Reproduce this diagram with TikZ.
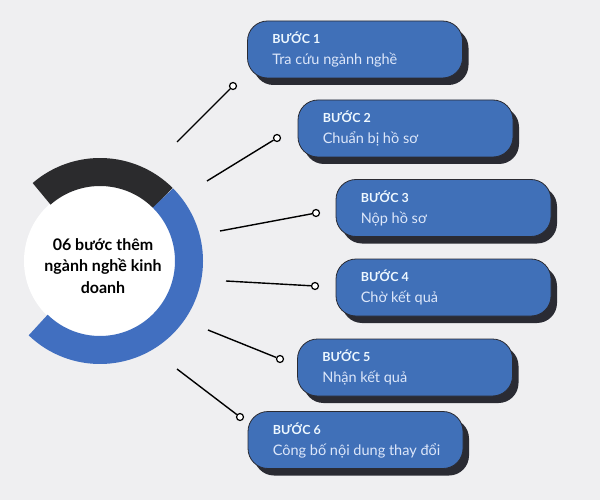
\documentclass[tikz,border=0pt]{standalone}
\usepackage{fontspec}
\setmainfont{Lato}
\usetikzlibrary{shadows}
\definecolor{bgcol}{HTML}{EFEFF1}
\definecolor{stepblue}{HTML}{4070B8}
\definecolor{ringblue}{HTML}{416FC0}
\definecolor{ringdark}{HTML}{2B2B2D}
\definecolor{shadowcol}{HTML}{2A2B33}
\definecolor{titlecol}{HTML}{EEF8FF}
\definecolor{desccol}{HTML}{DDE7FA}
\tikzset{
  stepbox/.style={draw=shadowcol, line width=0.8pt, fill=stepblue, rounded corners=20pt,
    minimum width=215pt, minimum height=57pt,
    drop shadow={shadow xshift=6pt, shadow yshift=-7pt, fill=shadowcol, opacity=1}},
  steptitle/.style={anchor=base west, inner sep=0pt, text=titlecol, font=\bfseries\fontsize{12.5}{15}\selectfont},
  stepdesc/.style={anchor=base west, inner sep=0pt, text=desccol, font=\fontsize{14.5}{17}\selectfont},
  knob/.style={circle, draw, fill=white, line width=1.2pt, inner sep=0pt, minimum size=7pt},
  linkline/.style={line width=1.4pt}
}
\begin{document}
\begin{tikzpicture}[x=1pt, y=1pt]
    \useasboundingbox (0,0) rectangle (600,-500);
    \fill[bgcol] (0,0) rectangle (600,-500);
    % ring
    \node (hub) [circle, fill=white, minimum size=152pt, inner sep=0pt] at (100,-261) {};
    \draw[ringdark, line width=28pt] ([shift={(45:89pt)}]hub.center) arc[start angle=45, end angle=131, radius=89pt];% dark part
    \draw[ringblue, line width=28pt] ([shift={(45:89pt)}]hub.center) arc[start angle=45, end angle=-134, radius=89pt];% blue part
    \node (hubtext) [align=center, font=\bfseries\fontsize{16}{21.5}\selectfont] at (103,-266) {06 bước thêm\\ngành nghề kinh\\doanh};
    % steps
    \node (box1) [stepbox] at (355,-49.5) {};
    \node (title1) [steptitle] at ([xshift=25pt,yshift=6pt]box1.west) {BƯỚC 1};
    \node (desc1) [stepdesc] at ([xshift=25pt,yshift=-15pt]box1.west) {Tra cứu ngành nghề};
    \node (box2) [stepbox] at (405.5,-128.5) {};
    \node (title2) [steptitle] at ([xshift=25pt,yshift=6pt]box2.west) {BƯỚC 2};
    \node (desc2) [stepdesc] at ([xshift=25pt,yshift=-15pt]box2.west) {Chuẩn bị hồ sơ};
    \node (box3) [stepbox] at (443.5,-208) {};
    \node (title3) [steptitle] at ([xshift=25pt,yshift=6pt]box3.west) {BƯỚC 3};
    \node (desc3) [stepdesc] at ([xshift=25pt,yshift=-15pt]box3.west) {Nộp hồ sơ};
    \node (box4) [stepbox] at (443.5,-287.5) {};
    \node (title4) [steptitle] at ([xshift=25pt,yshift=6pt]box4.west) {BƯỚC 4};
    \node (desc4) [stepdesc] at ([xshift=25pt,yshift=-15pt]box4.west) {Chờ kết quả};
    \node (box5) [stepbox] at (405,-367.5) {};
    \node (title5) [steptitle] at ([xshift=25pt,yshift=6pt]box5.west) {BƯỚC 5};
    \node (desc5) [stepdesc] at ([xshift=25pt,yshift=-15pt]box5.west) {Nhận kết quả};
    \node (box6) [stepbox] at (355.5,-440) {};
    \node (title6) [steptitle] at ([xshift=25pt,yshift=6pt]box6.west) {BƯỚC 6};
    \node (desc6) [stepdesc] at ([xshift=25pt,yshift=-15pt]box6.west) {Công bố nội dung thay đổi};
    % connectors
    \coordinate (s1) at (177,-142);
    \coordinate (s2) at (207,-181);
    \coordinate (s3) at (220,-231);
    \coordinate (s4) at (226,-281);
    \coordinate (s5) at (208,-330);
    \coordinate (s6) at (177,-369);
    \node (d1) [knob] at (233,-86) {};
    \node (d2) [knob] at (277,-138) {};
    \node (d3) [knob] at (316,-213) {};
    \node (d4) [knob] at (315,-286) {};
    \node (d5) [knob] at (280,-359) {};
    \node (d6) [knob] at (240,-417) {};
    \draw[linkline] (s1) -- (d1);% step 1
    \draw[linkline] (s2) -- (d2);% step 2
    \draw[linkline] (s3) -- (d3);% step 3
    \draw[linkline] (s4) -- (d4);% step 4
    \draw[linkline] (s5) -- (d5);% step 5
    \draw[linkline] (s6) -- (d6);% step 6
\end{tikzpicture}
\end{document}
